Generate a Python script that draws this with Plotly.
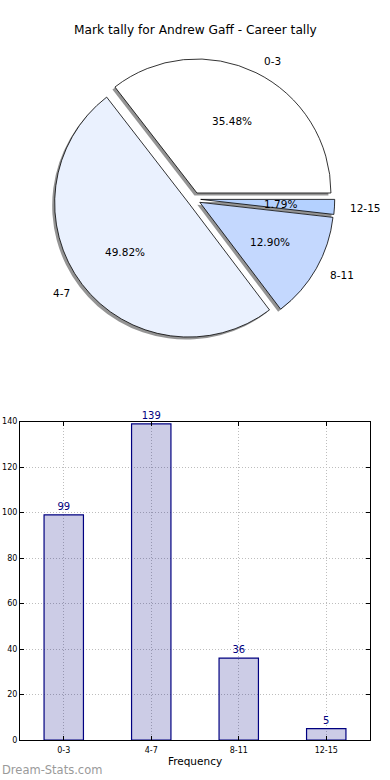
import math
import plotly.graph_objects as go

# ---- data ----
categories = ["0-3", "4-7", "8-11", "12-15"]
counts = [99, 139, 36, 5]
pie_colors = ["#ffffff", "#eaf1fe", "#c4d8fe", "#b4d1ff"]
title_text = "Mark tally for Andrew Gaff - Career tally"
x_title = "Frequency"
watermark = "Dream-Stats.com"
y_ticks = [0, 20, 40, 60, 80, 100, 120, 140]

FONT = "DejaVu Sans"
W, H = 390, 780

# pie geometry (pixels)
cx, cy, r, pull = 194, 199, 134, 0.05
half = r * (1 + pull)
total = sum(counts)
# plotly: for counterclockwise pies the first slice lies clockwise of `rotation`;
# make the first slice start at 3 o'clock (like matplotlib's startangle=0)
rotation = 90 - 360.0 * counts[0] / total


def dom(dx=0.0, dy=0.0):
    return dict(
        x=[(cx + dx - half) / W, (cx + dx + half) / W],
        y=[1 - (cy + dy + half) / H, 1 - (cy + dy - half) / H],
    )


fig = go.Figure()

# shadow pie
fig.add_trace(go.Pie(
    labels=categories, values=counts, sort=False,
    direction="counterclockwise", rotation=rotation,
    pull=[pull] * len(counts),
    marker=dict(colors=["rgba(0,0,0,0.42)"] * len(counts), line=dict(width=0)),
    textinfo="none", hoverinfo="skip", showlegend=False,
    domain=dom(-2.5, 2.5),
))

# main pie
fig.add_trace(go.Pie(
    labels=categories, values=counts, sort=False,
    direction="counterclockwise", rotation=rotation,
    pull=[pull] * len(counts),
    marker=dict(colors=pie_colors, line=dict(color="black", width=0.8)),
    textinfo="none", showlegend=False,
    domain=dom(),
))

annotations = []
cum = 0.0
for lab, v in zip(categories, counts):
    frac = v / total
    th = math.radians((cum + frac / 2) * 360)
    cum += frac
    c, s = math.cos(th), math.sin(th)
    ox, oy = pull * r * c, -pull * r * s
    px, py = cx + ox + 0.6 * r * c, cy + oy - 0.6 * r * s
    annotations.append(dict(
        x=px / W, y=1 - py / H, xref="paper", yref="paper",
        text="%.2f%%" % (100 * frac), showarrow=False,
        xanchor="center", yanchor="middle",
        font=dict(family=FONT, size=10.5, color="black"),
    ))
    lx, ly = cx + ox + 1.1 * r * c, cy + oy - 1.1 * r * s
    annotations.append(dict(
        x=lx / W, y=1 - ly / H, xref="paper", yref="paper",
        text=lab, showarrow=False,
        xanchor="left" if c > 0 else "right", yanchor="middle",
        font=dict(family=FONT, size=10.5, color="black"),
    ))

annotations.append(dict(
    x=195 / W, y=1 - 30 / H, xref="paper", yref="paper",
    text=title_text, showarrow=False, xanchor="center", yanchor="middle",
    font=dict(family=FONT, size=12.2, color="black"),
))
annotations.append(dict(
    x=0, y=1 - 770 / H, xref="paper", yref="paper",
    text=watermark, showarrow=False, xanchor="left", yanchor="middle",
    font=dict(family=FONT, size=11.5, color="#9a9a9a"),
))

# bar chart
fig.add_trace(go.Bar(
    x=categories, y=counts, width=0.45,
    marker=dict(color="rgba(0,0,128,0.2)", line=dict(color="#000080", width=1.2)),
    text=[str(v) for v in counts], textposition="outside",
    textfont=dict(family=FONT, size=10, color="#000080"),
    cliponaxis=False, showlegend=False,
    xaxis="x", yaxis="y",
))

axis_common = dict(
    showline=True, linecolor="black", linewidth=1, mirror="ticks",
    ticks="inside", ticklen=4, tickcolor="black", tickwidth=1,
    showgrid=True, gridcolor="#bdbdbd", griddash="1px,2px", gridwidth=1,
    zeroline=False, tickfont=dict(family=FONT, size=8, color="black"),
    automargin=False,
)

fig.update_layout(
    width=W, height=H,
    margin=dict(l=0, r=0, t=0, b=0, autoexpand=False),
    paper_bgcolor="white", plot_bgcolor="white",
    showlegend=False,
    font=dict(family=FONT, color="black"),
    annotations=annotations,
    xaxis=dict(
        domain=[20 / W, 370 / W], anchor="y",
        type="category", range=[-0.5, 3.5],
        title=dict(text=x_title, font=dict(family=FONT, size=10.5), standoff=4),
        ticklabelstandoff=2,
        **axis_common,
    ),
    yaxis=dict(
        domain=[1 - 740 / H, 1 - 421.5 / H], anchor="x",
        range=[0, 140], tickvals=y_ticks,
        **axis_common,
    ),
)

fig.write_html(
    "out.html",
    config={"displayModeBar": False},
    post_script="document.body.style.margin='0';document.body.style.overflow='hidden';",
)
